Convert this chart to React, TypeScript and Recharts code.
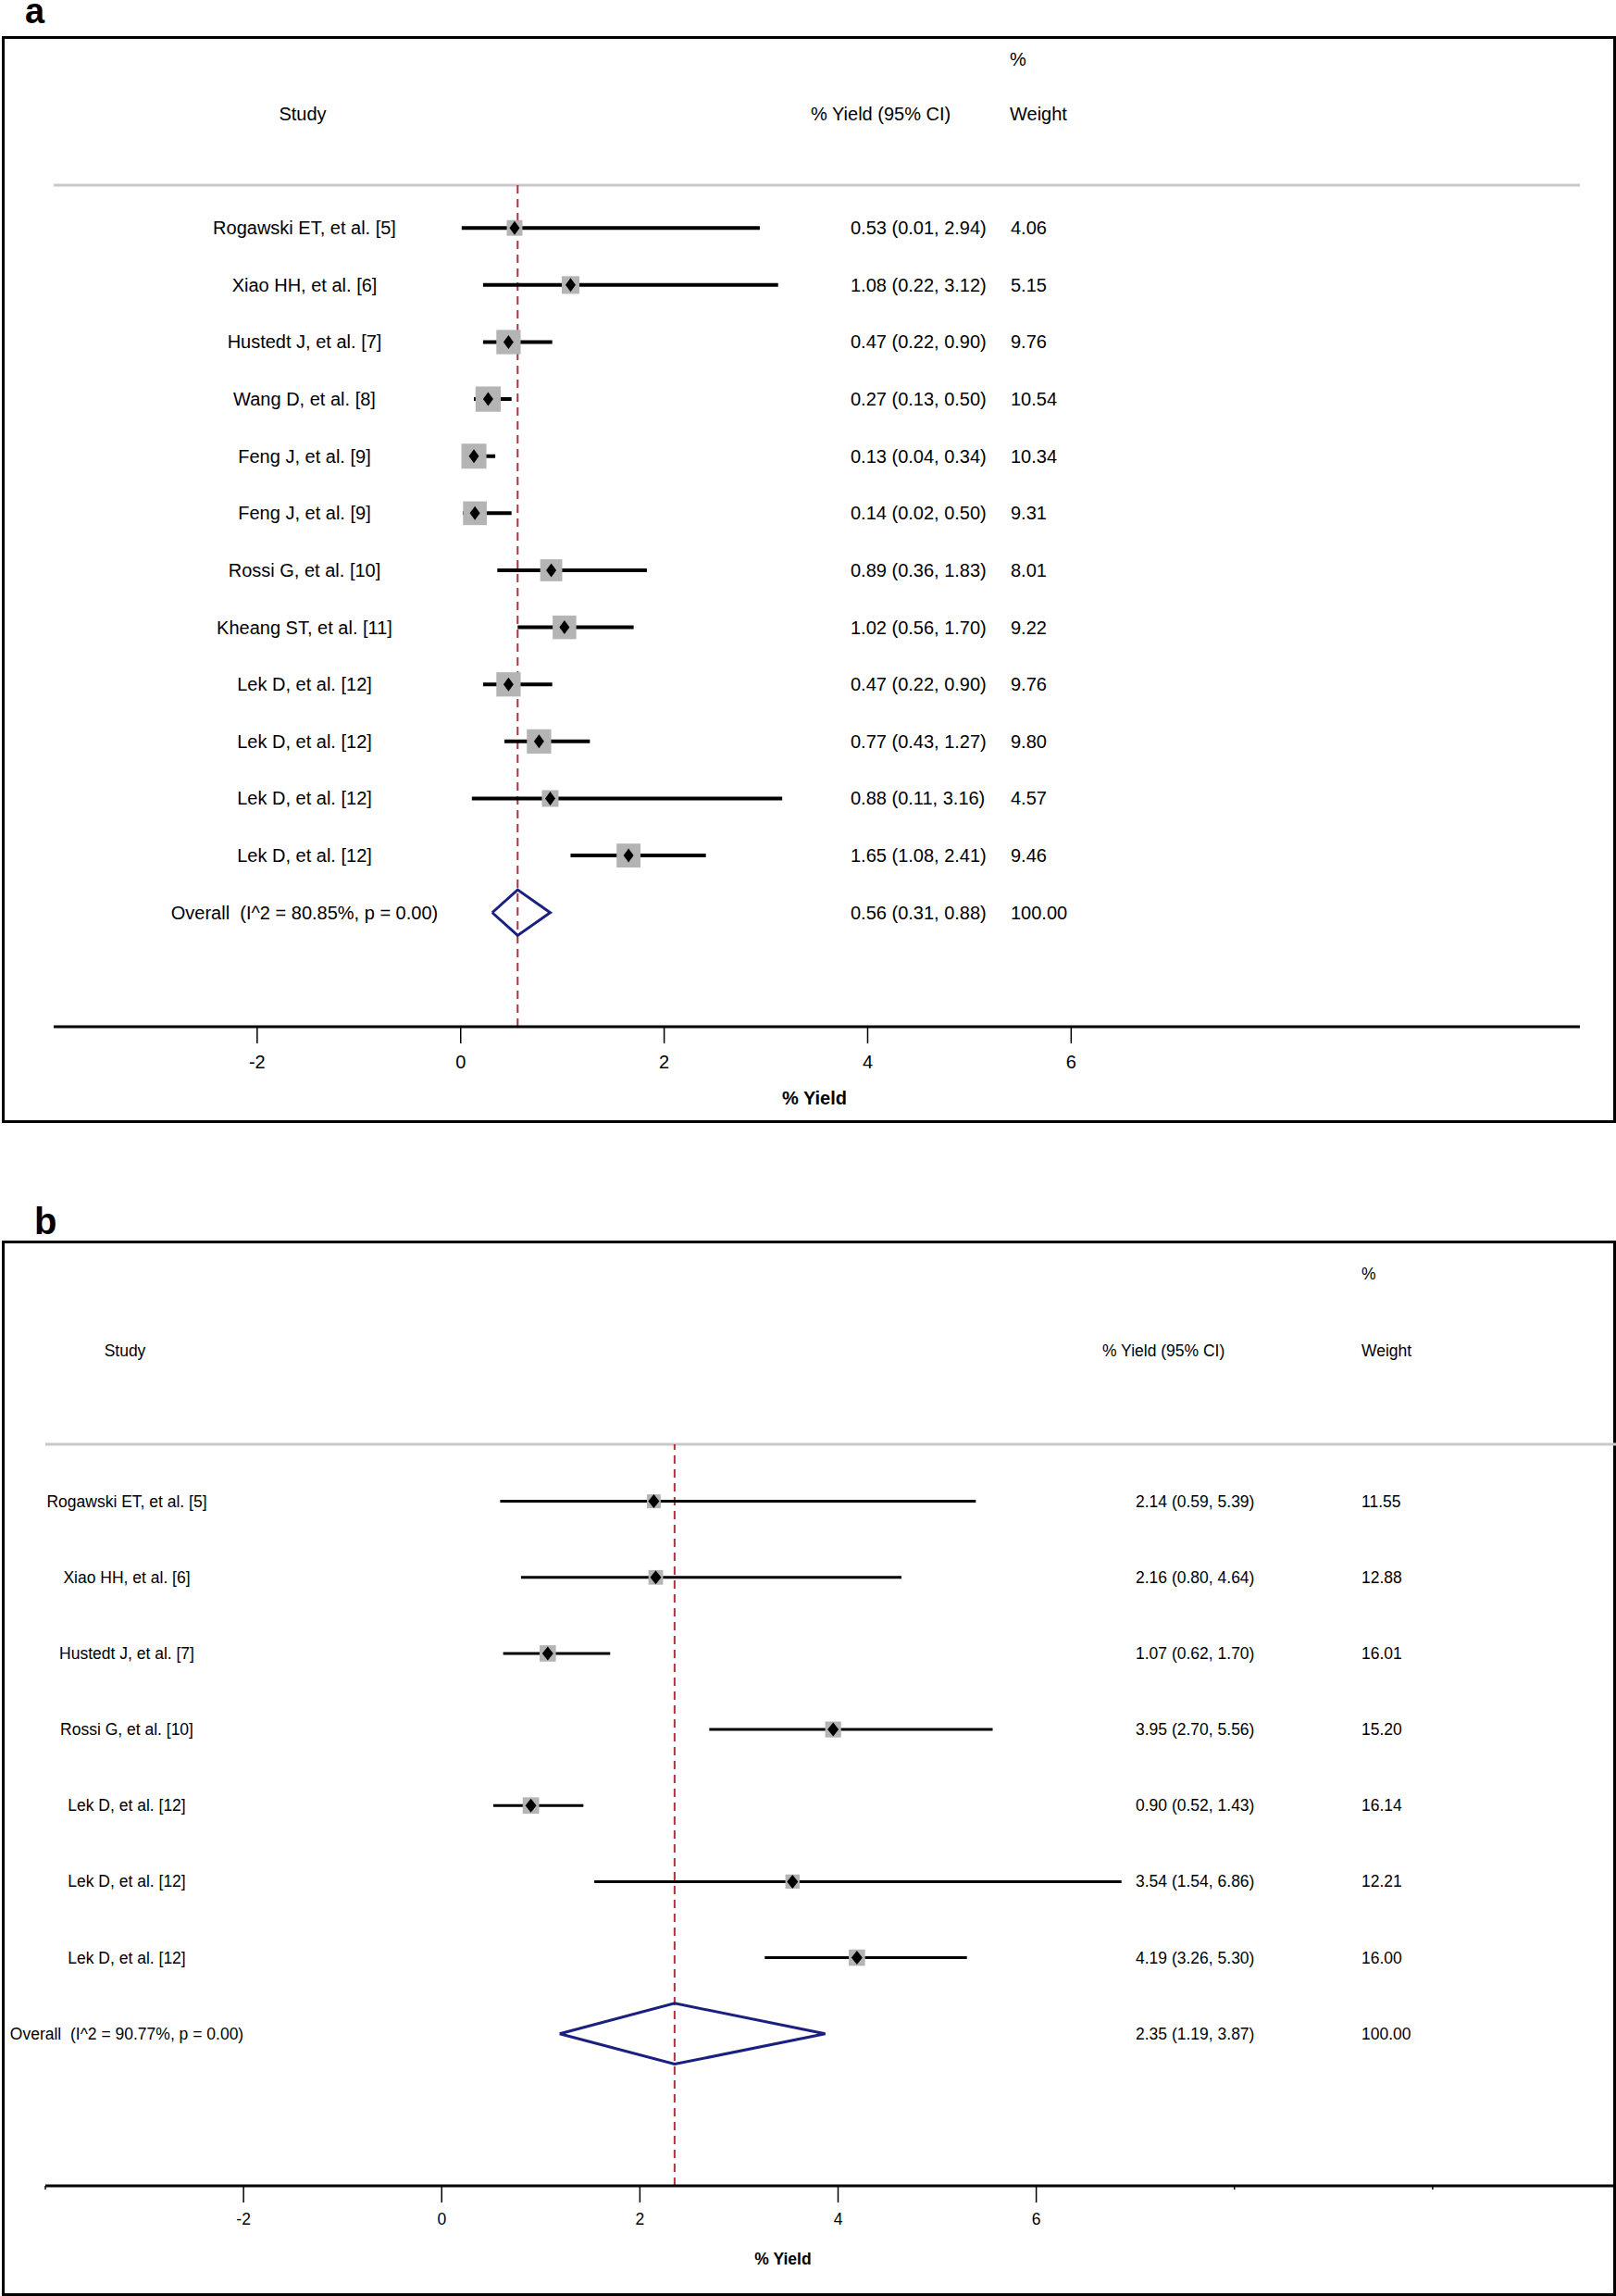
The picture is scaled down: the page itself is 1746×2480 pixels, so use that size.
import React from 'react';
import { ScatterChart, Scatter, XAxis, YAxis, ReferenceLine, ErrorBar } from 'recharts';

const FONT = '"Liberation Sans", Arial, Helvetica, sans-serif';

// panel a
const STUDY_A = [
  'Rogawski ET, et al. [5]', 'Xiao HH, et al. [6]', 'Hustedt J, et al. [7]', 'Wang D, et al. [8]',
  'Feng J, et al. [9]', 'Feng J, et al. [9]', 'Rossi G, et al. [10]', 'Kheang ST, et al. [11]',
  'Lek D, et al. [12]', 'Lek D, et al. [12]', 'Lek D, et al. [12]', 'Lek D, et al. [12]',
];
const EST_A = [0.53, 1.08, 0.47, 0.27, 0.13, 0.14, 0.89, 1.02, 0.47, 0.77, 0.88, 1.65];
const LO_A = [0.01, 0.22, 0.22, 0.13, 0.04, 0.02, 0.36, 0.56, 0.22, 0.43, 0.11, 1.08];
const HI_A = [2.94, 3.12, 0.9, 0.5, 0.34, 0.5, 1.83, 1.7, 0.9, 1.27, 3.16, 2.41];
const W_A = [4.06, 5.15, 9.76, 10.54, 10.34, 9.31, 8.01, 9.22, 9.76, 9.8, 4.57, 9.46];
const OVERALL_A = [0.56, 0.31, 0.88];
const OVERALL_LABEL_A = 'Overall  (I^2 = 80.85%, p = 0.00)';

// panel b
const STUDY_B = [
  'Rogawski ET, et al. [5]', 'Xiao HH, et al. [6]', 'Hustedt J, et al. [7]', 'Rossi G, et al. [10]',
  'Lek D, et al. [12]', 'Lek D, et al. [12]', 'Lek D, et al. [12]',
];
const EST_B = [2.14, 2.16, 1.07, 3.95, 0.9, 3.54, 4.19];
const LO_B = [0.59, 0.8, 0.62, 2.7, 0.52, 1.54, 3.26];
const HI_B = [5.39, 4.64, 1.7, 5.56, 1.43, 6.86, 5.3];
const W_B = [11.55, 12.88, 16.01, 15.2, 16.14, 12.21, 16.0];
const OVERALL_B = [2.35, 1.19, 3.87];
const OVERALL_LABEL_B = 'Overall  (I^2 = 90.77%, p = 0.00)';

const TICKS_A = [-2, 0, 2, 4, 6];
const TICKS_B = [-4, -2, 0, 2, 4, 6, 8, 10];
const LABELED_TICKS = [-2, 0, 2, 4, 6];

const DIAMOND_H = 0.4;

function buildRows(study: string[], est: number[], lo: number[], hi: number[], w: number[]) {
  return study.map((s, i) => ({
    study: s, x: est[i], y: i + 1, lo: lo[i], hi: hi[i], w: w[i],
    err: [est[i] - lo[i], hi[i] - est[i]],
  }));
}

function overallRow(label: string, ov: number[], row: number) {
  return { study: label, x: ov[0], y: row, lo: ov[1], hi: ov[2], w: 100 };
}

function diamondPts(ov: number[], row: number) {
  const [est, lo, hi] = ov;
  return [
    { x: lo, y: row }, { x: est, y: row - DIAMOND_H }, { x: hi, y: row },
    { x: est, y: row + DIAMOND_H }, { x: lo, y: row },
  ];
}

const AxisTick = (props: any) => {
  const { x, y, payload, fs, dy } = props;
  const labeled = LABELED_TICKS.includes(payload.value);
  return (
    <g>
      <line x1={x} x2={x} y1={y} y2={y + (labeled ? 18 : 4)} stroke="#000" strokeWidth={1.5} />
      {labeled && (
        <text x={x} y={y + dy} textAnchor="middle" dominantBaseline="central"
          style={{ fontFamily: FONT, fontSize: fs, fill: '#000' }}>
          {payload.value}
        </text>
      )}
    </g>
  );
};

function ForestPanel({ rows, overall, label, cfg }: any) {
  const ovRow = rows.length + 1;
  const textRows = [...rows, overallRow(label, overall, ovRow)];
  const sq = (p: any) => {
    const s = cfg.sqK * Math.sqrt(p.payload.w);
    return <rect x={p.cx - s / 2} y={p.cy - s / 2} width={s} height={s} fill="#b4b4b4" />;
  };
  const dot = (p: any) => (
    <path d={`M${p.cx - cfg.dotW},${p.cy}L${p.cx},${p.cy - cfg.dotH}L${p.cx + cfg.dotW},${p.cy}L${p.cx},${p.cy + cfg.dotH}Z`} fill="#000" />
  );
  const txt = (p: any) => {
    const r = p.payload;
    const st = { fontFamily: FONT, fontSize: cfg.fs, fill: '#000', whiteSpace: 'pre' as const };
    return (
      <g>
        <text x={cfg.labelX} y={p.cy} textAnchor="middle" dominantBaseline="central" style={st}>{r.study}</text>
        <text x={cfg.ciX} y={p.cy} dominantBaseline="central" style={st}>
          {`${r.x.toFixed(2)} (${r.lo.toFixed(2)}, ${r.hi.toFixed(2)})`}
        </text>
        <text x={cfg.wX} y={p.cy} dominantBaseline="central" style={st}>{r.w.toFixed(2)}</text>
      </g>
    );
  };
  return (
    <ScatterChart width={cfg.width} height={cfg.height} margin={cfg.margin}>
      <XAxis type="number" dataKey="x" domain={cfg.xDomain} ticks={cfg.ticks} interval={0}
        height={cfg.axisH} tickSize={0} tickMargin={0} tickLine={false}
        axisLine={{ stroke: '#000', strokeWidth: 3 }}
        tick={(p: any) => <AxisTick {...p} fs={cfg.fs} dy={cfg.tickDy} />} />
      <YAxis type="number" dataKey="y" domain={cfg.yDomain} reversed hide />
      <ReferenceLine y={cfg.yDomain[0]} stroke="#c8c8c8" strokeWidth={3} />
      <ReferenceLine x={overall[0]} stroke="#b0303c" strokeWidth={2} strokeDasharray="9 6" />
      <Scatter data={rows} shape={sq} isAnimationActive={false} />
      <Scatter data={rows} shape={dot} isAnimationActive={false}>
        <ErrorBar dataKey="err" direction="x" width={0} stroke="#000" strokeWidth={cfg.ciW} />
      </Scatter>
      <Scatter data={diamondPts(overall, ovRow)} line={{ stroke: '#1b1f80', strokeWidth: 3 }}
        lineType="joint" shape={() => <g />} isAnimationActive={false} />
      <Scatter data={textRows} shape={txt} isAnimationActive={false} />
    </ScatterChart>
  );
}

const CFG_A = {
  width: 1746, height: 1213, margin: { top: 200, right: 39, bottom: 0, left: 58 }, axisH: 104,
  xDomain: [-4, 11], yDomain: [0.25, 15], ticks: TICKS_A, fs: 20, tickDy: 38,
  labelX: 329, ciX: 919, wX: 1092, sqK: 8.4, ciW: 4, dotW: 5.5, dotH: 7.5,
};
const CFG_B = {
  width: 1780, height: 1140, margin: { top: 220, right: 18, bottom: 0, left: 49 }, axisH: 119,
  xDomain: [-4, 12], yDomain: [0.25, 10], ticks: TICKS_B, fs: 17.5, tickDy: 36,
  labelX: 137, ciX: 1227, wX: 1471, sqK: 4.4, ciW: 3, dotW: 6, dotH: 7.5,
};

export default function App() {
  const rowsA = buildRows(STUDY_A, EST_A, LO_A, HI_A, W_A);
  const rowsB = buildRows(STUDY_B, EST_B, LO_B, HI_B, W_B);
  const t = (fs: number, extra: any = {}) => ({ fontFamily: FONT, fontSize: fs, fill: '#000', ...extra });
  return (
    <div style={{ position: 'absolute', left: 0, top: 0, width: 1746, height: 2480, background: '#fff', overflow: 'hidden' }}>
      <div style={{ position: 'absolute', left: 2, top: 39, width: 1744, height: 1174, border: '3px solid #000', boxSizing: 'border-box' }} />
      <div style={{ position: 'absolute', left: 2, top: 1340, width: 1744, height: 1140, border: '3px solid #000', boxSizing: 'border-box' }} />
      <div style={{ position: 'absolute', left: 0, top: 0 }}>
        <ForestPanel rows={rowsA} overall={OVERALL_A} label={OVERALL_LABEL_A} cfg={CFG_A} />
      </div>
      <div style={{ position: 'absolute', left: 0, top: 1340 }}>
        <ForestPanel rows={rowsB} overall={OVERALL_B} label={OVERALL_LABEL_B} cfg={CFG_B} />
      </div>
      <svg width={1746} height={2480} style={{ position: 'absolute', left: 0, top: 0, pointerEvents: 'none' }}>
        <text x={27} y={25} style={t(38, { fontWeight: 'bold' })}>a</text>
        <text x={1091} y={64} dominantBaseline="central" style={t(20)}>%</text>
        <text x={327} y={123} textAnchor="middle" dominantBaseline="central" style={t(20)}>Study</text>
        <text x={876} y={123} dominantBaseline="central" style={t(20)}>% Yield (95% CI)</text>
        <text x={1091} y={123} dominantBaseline="central" style={t(20)}>Weight</text>
        <text x={880} y={1186} textAnchor="middle" dominantBaseline="central" style={t(20, { fontWeight: 'bold' })}>% Yield</text>

        <text x={37} y={1333} style={t(40, { fontWeight: 'bold' })}>b</text>
        <text x={1471} y={1376} dominantBaseline="central" style={t(17.5)}>%</text>
        <text x={135} y={1459} textAnchor="middle" dominantBaseline="central" style={t(17.5)}>Study</text>
        <text x={1191} y={1459} dominantBaseline="central" style={t(17.5)}>% Yield (95% CI)</text>
        <text x={1471} y={1459} dominantBaseline="central" style={t(17.5)}>Weight</text>
        <text x={846} y={2440} textAnchor="middle" dominantBaseline="central" style={t(17.5, { fontWeight: 'bold' })}>% Yield</text>
      </svg>
    </div>
  );
}
